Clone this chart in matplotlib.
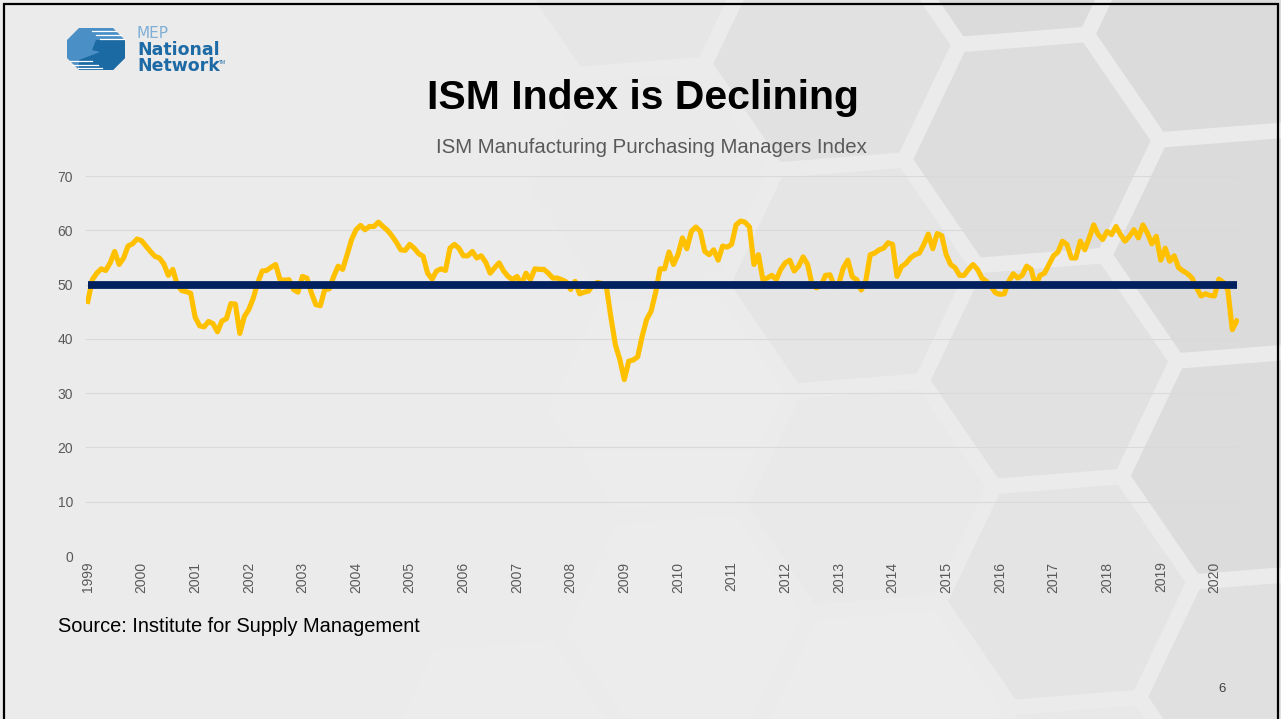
"""ISM Manufacturing PMI slide: monthly index with the 50 expansion line."""

import numpy as np
import matplotlib
matplotlib.use("Agg")
import matplotlib.pyplot as plt
from matplotlib.patches import Polygon

# monthly ISM PMI readings, first point is the month before the "1999" tick
pmi = [
    46.9, 50.9, 52.1, 52.9, 52.6, 54.0, 56.1, 53.7, 54.9, 57.1, 57.5, 58.4, 58.1,
    57.1, 56.1, 55.2, 54.9, 53.8, 51.7, 52.8, 50.0, 48.9, 48.7, 48.4, 44.0,
    42.4, 42.2, 43.2, 42.8, 41.3, 43.3, 43.7, 46.5, 46.4, 41.0, 44.1, 45.4,
    47.5, 50.3, 52.5, 52.6, 53.2, 53.7, 50.9, 50.8, 50.9, 49.1, 48.6, 51.5,
    51.2, 48.5, 46.3, 46.1, 49.1, 49.2, 51.5, 53.4, 52.8, 55.5, 58.3, 60.1,
    60.9, 60.1, 60.7, 60.7, 61.5, 60.7, 60.0, 59.0, 57.8, 56.4, 56.3, 57.4,
    56.7, 55.7, 55.2, 52.1, 51.0, 52.5, 52.9, 52.6, 56.7, 57.4, 56.7, 55.3,
    55.3, 56.1, 54.9, 55.3, 54.1, 52.1, 53.1, 54.0, 52.5, 51.5, 50.9, 51.5,
    50.0, 52.1, 50.9, 52.9, 52.8, 52.8, 52.1, 51.2, 51.2, 50.9, 50.5, 49.1,
    50.6, 48.3, 48.6, 48.8, 50.0, 50.4, 50.2, 49.6, 44.0, 38.9, 36.2, 32.5,
    35.9, 36.1, 36.7, 40.5, 43.6, 45.1, 48.5, 52.9, 52.9, 56.0, 53.7, 55.5,
    58.6, 56.6, 59.8, 60.6, 59.8, 56.1, 55.5, 56.4, 54.5, 57.1, 56.9, 57.4,
    61.0, 61.7, 61.5, 60.6, 53.7, 55.5, 50.9, 51.2, 51.7, 50.9, 52.8, 54.0,
    54.5, 52.5, 53.4, 55.1, 53.7, 50.0, 49.4, 49.8, 51.7, 51.8, 49.7, 50.2,
    53.1, 54.5, 51.4, 50.9, 49.0, 50.6, 55.5, 55.8, 56.4, 56.7, 57.7, 57.4,
    51.5, 53.3, 53.9, 54.9, 55.5, 55.8, 57.4, 59.3, 56.6, 59.4, 59.0, 55.5,
    53.7, 53.1, 51.7, 51.7, 52.8, 53.7, 52.8, 51.2, 50.6, 49.7, 48.5, 48.2,
    48.3, 50.6, 52.0, 51.2, 51.7, 53.4, 52.8, 49.7, 51.7, 52.1, 53.7, 55.3,
    56.0, 58.0, 57.4, 54.9, 54.9, 58.0, 56.4, 58.6, 61.0, 59.2, 58.3, 59.8,
    59.2, 60.7, 59.2, 58.0, 58.9, 60.1, 58.6, 61.0, 59.5, 57.5, 58.9, 54.5,
    56.7, 54.3, 55.3, 53.1, 52.5, 52.0, 51.2, 49.4, 47.9, 48.3, 48.0, 47.9,
    51.0, 50.4, 49.0, 41.7, 43.3,
]
threshold = 50
year_labels = ["1999", "2000", "2001", "2002", "2003", "2004", "2005", "2006",
               "2007", "2008", "2009", "2010", "2011", "2012", "2013", "2014",
               "2015", "2016", "2017", "2018", "2019", "2020"]
y_ticks = [0, 10, 20, 30, 40, 50, 60, 70]

plt.rcParams["font.family"] = ["Liberation Sans", "DejaVu Sans"]

W, H = 1281, 719
fig = plt.figure(figsize=(W / 100, H / 100), dpi=100)
fig.patch.set_facecolor("#ebebeb")

# slide background: honeycomb + border + logo, drawn in pixel coordinates
bg = fig.add_axes([0, 0, 1, 1], zorder=-5)
bg.set_xlim(0, W)
bg.set_ylim(H, 0)
bg.set_axis_off()
bg.patch.set_alpha(0)


def hexagon(cx, cy, r, rot):
    ang = np.radians(np.arange(0, 360, 60) + rot)
    return np.column_stack([cx + r * np.cos(ang), cy - r * np.sin(ang)])


rot = 4.5
lat = 128
c0 = np.array([1032.0, 150.0])
ux = np.array([1.5 * lat * np.cos(np.radians(rot)), -1.5 * lat * np.sin(np.radians(rot))])
uy = np.array([np.sqrt(3) * lat * np.sin(np.radians(rot)), np.sqrt(3) * lat * np.cos(np.radians(rot))])
for i in range(-4, 3):
    for j in range(-2, 4):
        c = c0 + i * ux + j * uy + (0.5 * uy if i % 2 else 0)
        if c[0] < 500 or c[0] > 1500:
            continue
        k = np.clip((c[0] - 650) / 550 + (300 - c[1]) / 900, 0, 1)
        shade = 0.925 - 0.068 * k
        bg.add_patch(Polygon(hexagon(c[0], c[1], 119, rot), closed=True,
                             facecolor=(shade, shade, shade), edgecolor="none"))

# slide border
bg.plot([4, 4, W - 3, W - 3], [H, 4, 4, H], color="black", lw=1.6,
        solid_joinstyle="miter")

# logo
octo = [(79, 28), (113, 28), (125, 40), (125, 58), (113, 70), (79, 70),
        (67, 58), (67, 40)]
bg.add_patch(Polygon(octo, closed=True, facecolor="#4a8fc5", edgecolor="none"))
bg.add_patch(Polygon([(96, 40), (125, 40), (125, 58), (113, 70), (79, 70),
                      (79, 60), (100, 52), (92, 50)],
                     closed=True, facecolor="#1c6aa3", edgecolor="none"))
for yy, x0, x1 in [(31, 92, 116), (35, 96, 121), (39, 100, 124)]:
    bg.plot([x0, x1], [yy, yy], color="white", lw=0.9)
for yy, x0, x1 in [(61, 70, 92), (65, 72, 98), (68, 78, 102)]:
    bg.plot([x0, x1], [yy, yy], color="white", lw=0.9)
bg.text(137, 38, "MEP", fontsize=11, color="#7eaed6", family="DejaVu Sans",
        va="baseline")
bg.text(137, 55, "National", fontsize=12.5, color="#1d6aa5", family="DejaVu Sans",
        weight="bold", va="baseline")
bg.text(137, 71, "Network", fontsize=12.5, color="#1d6aa5", family="DejaVu Sans",
        weight="bold", va="baseline")
bg.text(219, 64, "TM", fontsize=3.5, color="#1d6aa5", va="baseline")

# titles and notes
bg.text(643, 109, "ISM Index is Declining", fontsize=29.5, weight="bold",
        color="black", ha="center", va="baseline")
bg.text(651, 153, "ISM Manufacturing Purchasing Managers Index", fontsize=14.7,
        color="#595959", ha="center", va="baseline")
bg.text(58, 632, "Source: Institute for Supply Management", fontsize=14.4,
        color="black", ha="left", va="baseline")
bg.text(1222, 692, "6", fontsize=9.5, color="#404040", ha="center", va="baseline")

# chart
left, right, top, bottom = 85.6, 1239, 176, 556
ax = fig.add_axes([left / W, 1 - bottom / H, (right - left) / W, (bottom - top) / H])
ax.patch.set_alpha(0)

months = np.arange(len(pmi))
ax.plot(months, pmi, color="#FFC000", lw=3.7, solid_joinstyle="round", zorder=3)
ax.plot(months, [threshold] * len(pmi), color="#002060", lw=5.6,
        solid_capstyle="butt", zorder=4)

ax.set_xlim(-0.5, len(pmi) - 0.5)
ax.set_ylim(0, 70)
ax.set_yticks(y_ticks)
ax.set_xticks(np.arange(0, 12 * len(year_labels), 12))
ax.set_xticklabels(year_labels, rotation=90)
ax.grid(axis="y", color="#d9d9d9", lw=0.8)
ax.set_axisbelow(True)
for s in ax.spines.values():
    s.set_visible(False)
ax.tick_params(axis="y", length=0, pad=9, labelsize=10, labelcolor="#595959")
ax.tick_params(axis="x", length=0, pad=4, labelsize=10, labelcolor="#595959")

fig.savefig("out.png", dpi=100, facecolor=fig.get_facecolor())
